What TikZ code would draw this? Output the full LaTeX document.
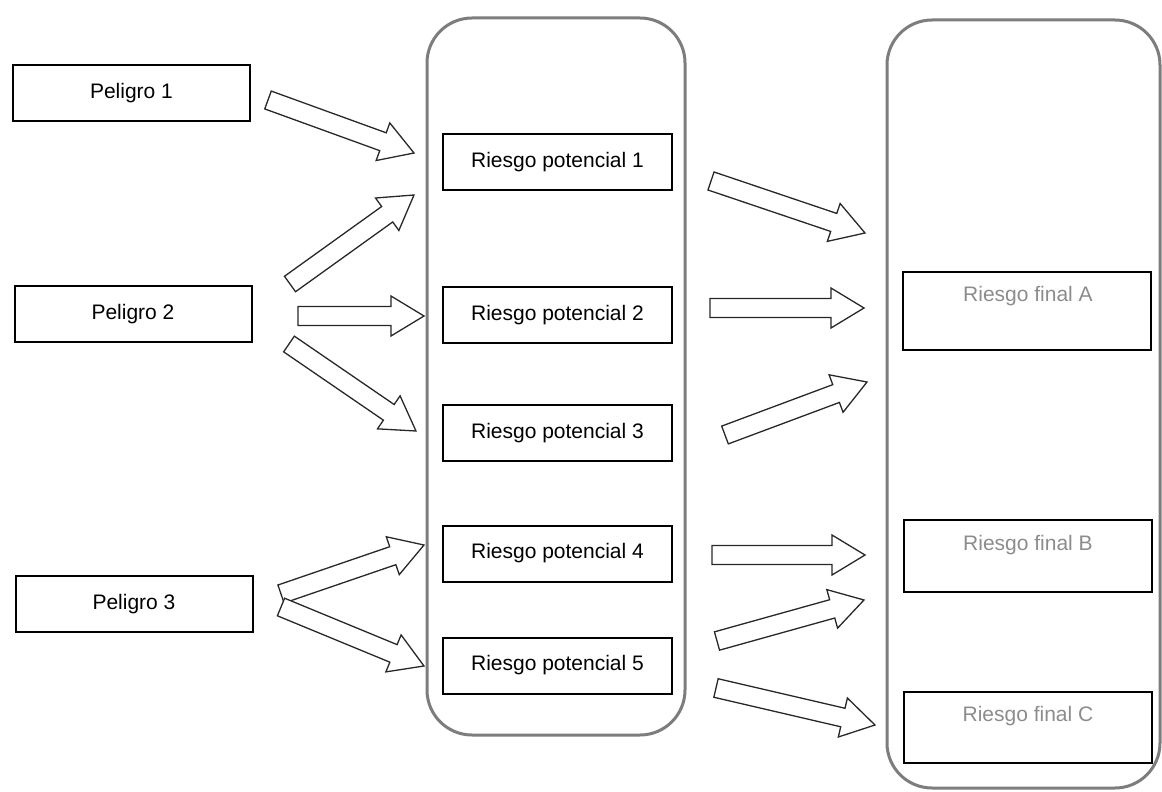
\documentclass[tikz,border=0pt]{standalone}
\usepackage{fontspec}
\setmainfont{Liberation Sans}
\usetikzlibrary{calc}
\definecolor{framegray}{RGB}{125,125,125}
\definecolor{textgray}{RGB}{140,140,140}
\definecolor{arrowline}{RGB}{40,40,40}
\newcommand{\blockarr}[2]{%
  \path let \p1=($(#2)-(#1)$), \n1={atan2(\y1,\x1)}, \n2={veclen(\x1,\y1)} in
    \pgfextra{\xdef\baAng{\n1}\xdef\baLen{\n2}};
  \draw[barrow, shift={(#1)}, rotate=\baAng]
    (0pt,-9.5pt) -- ({\baLen-33pt},-9.5pt) -- ({\baLen-33pt},-20pt) -- (\baLen,0pt)
    -- ({\baLen-33pt},20pt) -- ({\baLen-33pt},9.5pt) -- (0pt,9.5pt) -- cycle;
}
\begin{document}
\begin{tikzpicture}[x=1pt,y=-1pt,
  txt/.style={font=\fontsize{21}{25}\selectfont},
  hazard/.style={txt, draw=black, line width=2pt, minimum width=237pt, minimum height=56pt, inner sep=0pt},
  potbox/.style={txt, draw=black, line width=2pt, minimum width=229pt, minimum height=56pt, inner sep=0pt},
  finalbox/.style={draw=black, line width=2pt, minimum width=248pt, inner sep=0pt},
  finaltxt/.style={txt, text=textgray, inner sep=0pt},
  column/.style={draw=framegray, line width=3pt, rounded corners=45pt, inner sep=0pt},
  barrow/.style={draw=arrowline, line width=1.3pt, fill=white, line join=miter}]
\useasboundingbox (0,0) rectangle (1162,792);

% containers
\node[column, minimum width=258pt, minimum height=717pt] (colmid) at (556,376.5) {};
\node[column, minimum width=273pt, minimum height=768pt] (colfin) at (1023.5,404) {};

% hazards
\node[hazard] (p1) at (131.5,93) {Peligro 1};
\node[hazard] (p2) at (133,314) {Peligro 2};
\node[hazard] (p3) at (134,604) {Peligro 3};

% potential risks
\node[potbox] (r1) at (557.5,162) {Riesgo potencial 1};
\node[potbox] (r2) at (557.5,315) {Riesgo potencial 2};
\node[potbox] (r3) at (557.5,433) {Riesgo potencial 3};
\node[potbox] (r4) at (557.5,553.5) {Riesgo potencial 4};
\node[potbox] (r5) at (557.5,665.5) {Riesgo potencial 5};

% final risks
\node[finalbox, minimum height=78pt] (fa) at (1027,311) {};
\node[finalbox, minimum height=72pt] (fb) at (1028,556) {};
\node[finalbox, minimum height=71pt] (fc) at (1028,727.5) {};
\node[finaltxt] (fat) at (1028,296) {Riesgo final A};
\node[finaltxt] (fbt) at (1028,545) {Riesgo final B};
\node[finaltxt] (fct) at (1028,716) {Riesgo final C};

% arrow end points
\coordinate (t1) at (268,100);  \coordinate (h1) at (414,153);
\coordinate (t2) at (290,284);  \coordinate (h2) at (414,195);
\coordinate (t3) at (298,316);  \coordinate (h3) at (424,316);
\coordinate (t4) at (289,344);  \coordinate (h4) at (416,431);
\coordinate (t5) at (281,594);  \coordinate (h5) at (424,545);
\coordinate (t6) at (281,607);  \coordinate (h6) at (424,666);
\coordinate (t7) at (711,181);  \coordinate (h7) at (865,233);
\coordinate (t8) at (710,308);  \coordinate (h8) at (864,308);
\coordinate (t9) at (725,435);  \coordinate (h9) at (867,382);
\coordinate (t10) at (712,555); \coordinate (h10) at (865,555);
\coordinate (t11) at (717,641); \coordinate (h11) at (864,600);
\coordinate (t12) at (716,688); \coordinate (h12) at (875,725);

\blockarr{t1}{h1}
\blockarr{t2}{h2}
\blockarr{t3}{h3}
\blockarr{t4}{h4}
\blockarr{t5}{h5}
\blockarr{t6}{h6}
\blockarr{t7}{h7}
\blockarr{t8}{h8}
\blockarr{t9}{h9}
\blockarr{t10}{h10}
\blockarr{t11}{h11}
\blockarr{t12}{h12}
\end{tikzpicture}
\end{document}
